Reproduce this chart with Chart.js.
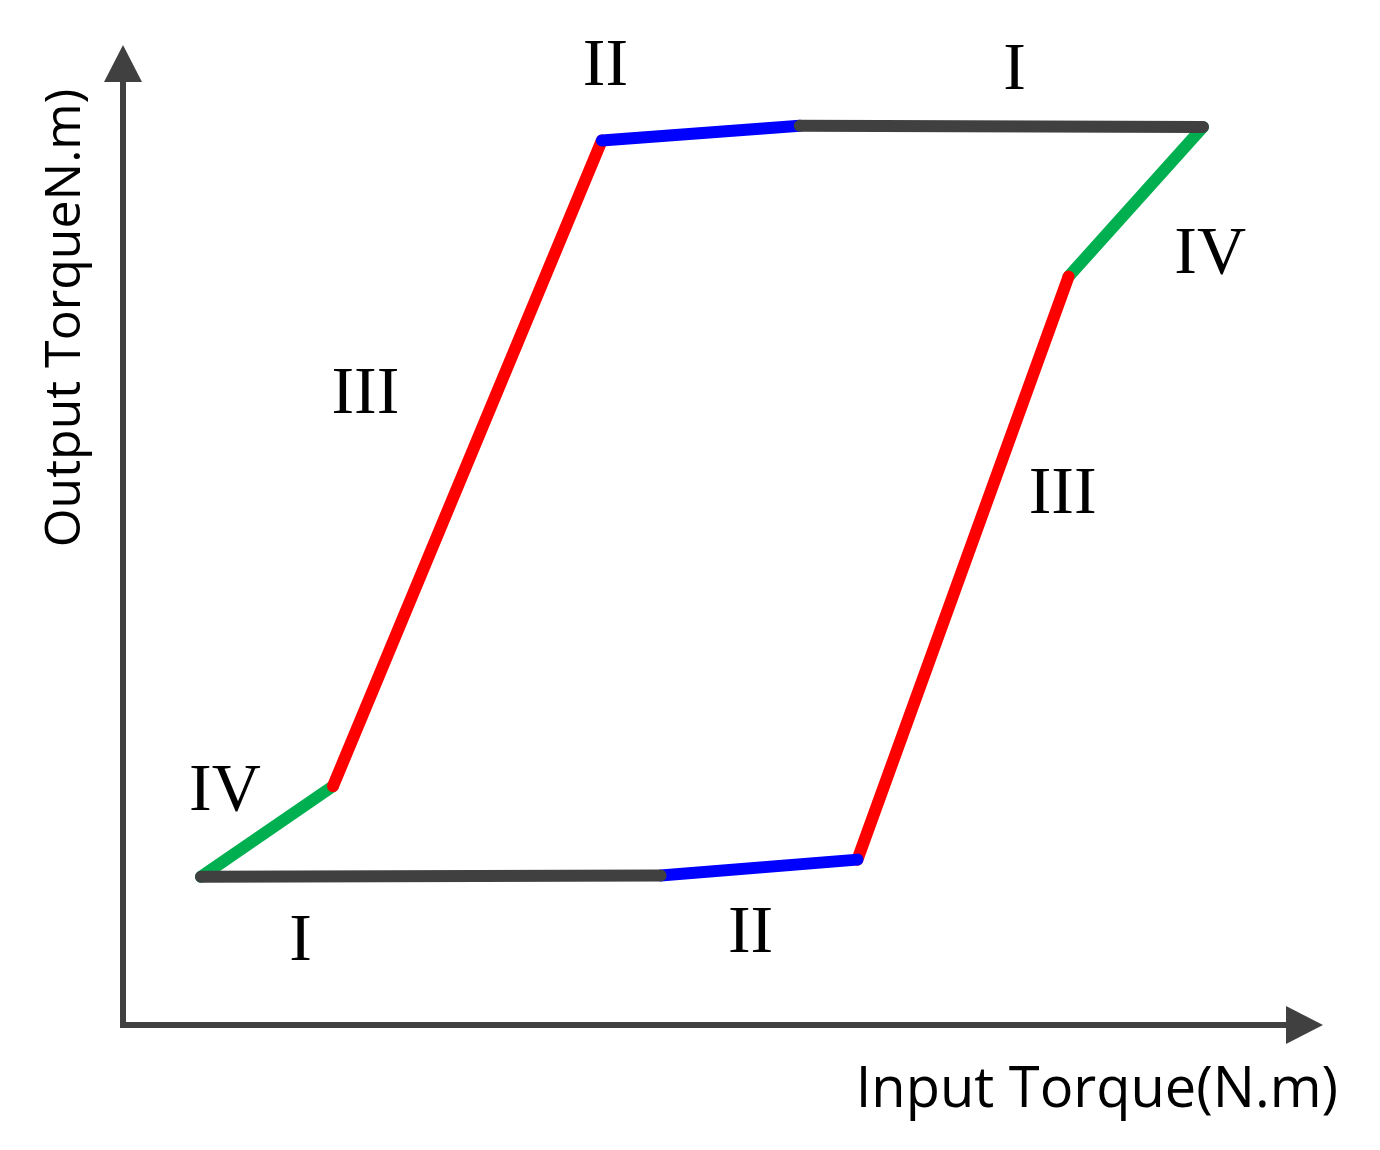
<!DOCTYPE html>
<html>
<head>
<meta charset="utf-8">
<script src="https://cdn.jsdelivr.net/npm/chart.js@4.4.1/dist/chart.umd.min.js"></script>
<style>
html,body{margin:0;padding:0;background:#fff;}
#wrap{width:1380px;height:1150px;position:relative;}
</style>
</head>
<body>
<div id="wrap"><canvas id="c"></canvas></div>
<script>
// Segment endpoints (input torque, output torque) in arbitrary units
const segI_bottom_x  = [0.65, 4.48];
const segI_bottom_y  = [1.21, 1.22];
const segII_bottom_x = [4.48, 6.12];
const segII_bottom_y = [1.22, 1.35];
const segIII_right_x = [6.12, 7.88];
const segIII_right_y = [1.35, 6.11];
const segIV_right_x  = [7.88, 9.00];
const segIV_right_y  = [6.11, 7.33];
const segI_top_x     = [9.00, 5.64];
const segI_top_y     = [7.33, 7.34];
const segII_top_x    = [5.64, 3.99];
const segII_top_y    = [7.34, 7.22];
const segIII_left_x  = [3.99, 1.75];
const segIII_left_y  = [7.22, 1.95];
const segIV_left_x   = [1.75, 0.65];
const segIV_left_y   = [1.95, 1.21];

// Region labels and their anchor points (data units)
const labelTexts = ['II', 'I', 'IV', 'III', 'III', 'IV', 'I', 'II'];
const labelX     = [4.02, 7.43, 9.06, 2.02, 7.83, 0.85, 1.48, 5.23];
const labelY     = [7.86, 7.83, 6.33, 5.18, 4.37, 1.94, 0.72, 0.78];

const xTitle = 'Input Torque(N.m)';
const yTitle = 'Output TorqueN.m)';

const pts = (xs, ys) => xs.map((x, i) => ({x: x, y: ys[i]}));
const GRAY = '#404040', BLUE = '#0000FF', RED = '#FF0000', GREEN = '#00B050';
const seg = (xs, ys, color) => ({
  data: pts(xs, ys), borderColor: color, borderWidth: 12, borderCapStyle: 'round',
  borderJoinStyle: 'round', pointRadius: 0, showLine: true, fill: false, tension: 0
});

const axesPlugin = {
  id: 'axesArrows',
  beforeDatasetsDraw(chart) {
    const ctx = chart.ctx, a = chart.chartArea;
    const ox = a.left, oy = a.bottom;
    ctx.save();
    ctx.strokeStyle = GRAY; ctx.fillStyle = GRAY; ctx.lineWidth = 6; ctx.lineCap = 'butt';
    // x axis
    ctx.beginPath(); ctx.moveTo(ox - 3, oy); ctx.lineTo(a.right - 30, oy); ctx.stroke();
    ctx.beginPath(); ctx.moveTo(a.right, oy); ctx.lineTo(a.right - 37, oy - 19); ctx.lineTo(a.right - 37, oy + 19); ctx.closePath(); ctx.fill();
    // y axis
    ctx.beginPath(); ctx.moveTo(ox, oy + 3); ctx.lineTo(ox, a.top + 30); ctx.stroke();
    ctx.beginPath(); ctx.moveTo(ox, a.top); ctx.lineTo(ox - 19, a.top + 37); ctx.lineTo(ox + 19, a.top + 37); ctx.closePath(); ctx.fill();
    ctx.restore();
  },
  afterDatasetsDraw(chart) {
    const ctx = chart.ctx, a = chart.chartArea;
    const xs = chart.scales.x, ys = chart.scales.y;
    ctx.save();
    ctx.fillStyle = '#000';
    ctx.font = '68px "Liberation Serif", "Times New Roman", serif';
    ctx.textAlign = 'center'; ctx.textBaseline = 'alphabetic';
    labelTexts.forEach((t, i) => {
      const px = xs.getPixelForValue(labelX[i]);
      const py = ys.getPixelForValue(labelY[i]);
      ctx.fillText(t, px, py + 23);
    });
    // axis titles
    ctx.font = '56px "Open Sans", Lato, sans-serif';
    ctx.textAlign = 'right'; ctx.textBaseline = 'alphabetic';
    ctx.fillText(xTitle, a.right + 15, a.bottom + 82);
    ctx.font = '50px "Open Sans", Lato, sans-serif';
    ctx.translate(a.left - 43, a.top + 273);
    ctx.rotate(-Math.PI / 2);
    ctx.textAlign = 'center';
    ctx.fillText(yTitle, 0, 0);
    ctx.restore();
  }
};

new Chart(document.getElementById('c'), {
  type: 'scatter',
  data: {
    datasets: [
      seg(segI_bottom_x, segI_bottom_y, GRAY),
      seg(segI_top_x, segI_top_y, GRAY),
      seg(segII_bottom_x, segII_bottom_y, BLUE),
      seg(segII_top_x, segII_top_y, BLUE),
      seg(segIII_right_x, segIII_right_y, RED),
      seg(segIII_left_x, segIII_left_y, RED),
      seg(segIV_right_x, segIV_right_y, GREEN),
      seg(segIV_left_x, segIV_left_y, GREEN)
    ]
  },
  options: {
    responsive: true, maintainAspectRatio: false, animation: false,
    layout: {padding: {left: 123, right: 57, top: 45, bottom: 125}},
    plugins: {legend: {display: false}, tooltip: {enabled: false}},
    scales: {
      x: {type: 'linear', min: 0, max: 10, display: false},
      y: {type: 'linear', min: 0, max: 8, display: false}
    }
  },
  plugins: [axesPlugin]
});
</script>
</body>
</html>
